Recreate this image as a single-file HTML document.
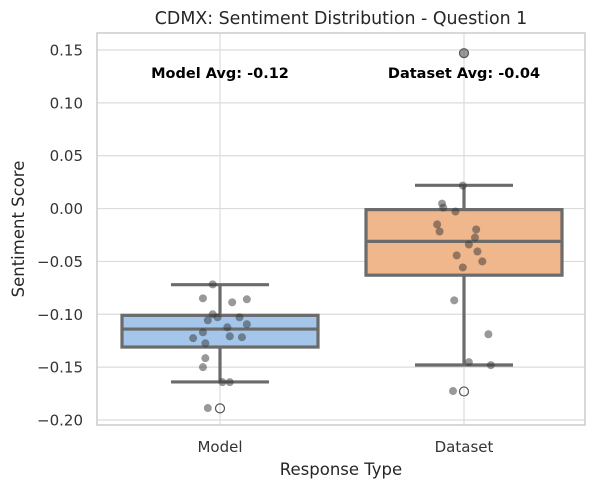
<!DOCTYPE html>
<html><head><meta charset="utf-8"><style>
body{margin:0;background:#fff;}
text{font-family:"DejaVu Sans","Liberation Sans",sans-serif;}
</style></head><body>
<svg id="chart" width="595" height="489" xmlns="http://www.w3.org/2000/svg"></svg>
<script>
const categories = ["Model", "Dataset"];
const boxQ1 = [-0.131, -0.063];
const boxMedian = [-0.114, -0.031];
const boxQ3 = [-0.101, -0.001];
const whiskerLow = [-0.164, -0.148];
const whiskerHigh = [-0.072, 0.022];
const outliersModel = [-0.189];
const outliersDataset = [0.147, -0.173];
const pointsModel = [-0.0717,-0.0849,-0.0887,-0.0858,-0.1,-0.1028,-0.1057,-0.1028,-0.1094,-0.1123,-0.117,-0.1226,-0.1208,-0.1217,-0.1274,-0.1415,-0.15,-0.1642,-0.1642,-0.1887];
const jitterModel = [-0.03,-0.07,0.05,0.11,-0.03,-0.01,-0.05,0.08,0.11,0.03,-0.07,-0.11,0.04,0.09,-0.06,-0.06,-0.07,0.01,0.04,-0.05];
const pointsDataset = [0.0217,0.0047,0.0009,-0.0028,-0.015,-0.0217,-0.0198,-0.0274,-0.034,-0.0406,-0.0443,-0.05,-0.0557,-0.0868,-0.1189,-0.1453,-0.1481,-0.1726,0.147];
const jitterDataset = [-0.005,-0.09,-0.085,-0.035,-0.11,-0.1,0.05,0.045,0.02,0.055,-0.03,0.075,-0.005,-0.04,0.1,0.02,0.11,-0.045,0.0];
const avgLabels = ["Model Avg: -0.12", "Dataset Avg: -0.04"];
const yTicks = [0.15,0.10,0.05,0.00,-0.05,-0.10,-0.15,-0.20];
const yTickLabels = ["0.15","0.10","0.05","0.00","\u22120.05","\u22120.10","\u22120.15","\u22120.20"];

const svg = document.getElementById('chart');
const NS = "http://www.w3.org/2000/svg";
const L=97,R=585,T=33,B=425;
const yScale = v => 420 - (v + 0.20) * (370/0.35);
const band = (R-L)/categories.length;
const xScale = i => L + band*(i+0.5) + 1;
function mk(tag, attrs, parent){const e=document.createElementNS(NS,tag);for(const k in attrs)e.setAttribute(k,attrs[k]);(parent||svg).appendChild(e);return e;}

const grid = mk('g',{});


yTicks.forEach((t,i)=>{
  const y=yScale(t);
  mk('line',{x1:L,x2:R,y1:y,y2:y,stroke:'#dcdcdc','stroke-width':1.2},grid);
  const tx=mk('text',{x:83,y:y+5.5,'text-anchor':'end','font-size':15,fill:'#333'});
  tx.textContent=yTickLabels[i];
  
  
});
categories.forEach((c,i)=>{
  const x=xScale(i);
  mk('line',{x1:x,x2:x,y1:T,y2:B,stroke:'#dcdcdc','stroke-width':1.2},grid);
  const tx=mk('text',{x:x,y:452,'text-anchor':'middle','font-size':15,fill:'#333'});
  tx.textContent=c;
  
  
});
const frame=mk('rect',{x:L,y:T,width:R-L,height:B-T,fill:'none',stroke:'#cccccc','stroke-width':1.5});



const fills=['#a3c6ea','#f0b68c'];
const bw=196;
categories.forEach((c,i)=>{
  const x=xScale(i);
  const g=mk('g',{});
  
  
  const st={stroke:'#6b6b6b','stroke-width':3.2};
  mk('line',Object.assign({x1:x,x2:x,y1:yScale(boxQ1[i]),y2:yScale(whiskerLow[i])},st),g);
  mk('line',Object.assign({x1:x,x2:x,y1:yScale(boxQ3[i]),y2:yScale(whiskerHigh[i])},st),g);
  mk('line',Object.assign({x1:x-bw/4,x2:x+bw/4,y1:yScale(whiskerLow[i]),y2:yScale(whiskerLow[i])},st),g);
  mk('line',Object.assign({x1:x-bw/4,x2:x+bw/4,y1:yScale(whiskerHigh[i]),y2:yScale(whiskerHigh[i])},st),g);
  mk('rect',Object.assign({x:x-bw/2,y:yScale(boxQ3[i]),width:bw,height:yScale(boxQ1[i])-yScale(boxQ3[i]),fill:fills[i]},st),g);
  mk('line',Object.assign({x1:x-bw/2,x2:x+bw/2,y1:yScale(boxMedian[i]),y2:yScale(boxMedian[i])},st),g);
});
function outl(vals,i){
  vals.forEach(v=>{
    const c=mk('circle',{cx:xScale(i),cy:yScale(v),r:4.5,fill:'none',stroke:'#555','stroke-width':1.2});
    
    
  });
}
outl(outliersModel,0);outl(outliersDataset,1);
function pts(vals,jit,i){
  vals.forEach((v,k)=>{
    const c=mk('circle',{cx:xScale(i)+jit[k]*band,cy:yScale(v),r:4,fill:'#333','fill-opacity':0.5});
    
    
  });
}
pts(pointsModel,jitterModel,0);pts(pointsDataset,jitterDataset,1);

avgLabels.forEach((s,i)=>{
  const t=mk('text',{x:xScale(i),y:78,'text-anchor':'middle','font-size':14.5,'font-weight':'bold',fill:'#000'});
  t.textContent=s;
  
  
});
const title=mk('text',{x:341,y:24,'text-anchor':'middle','font-size':17.4,fill:'#262626'});
title.textContent='CDMX: Sentiment Distribution - Question 1';


const xl=mk('text',{x:341,y:475,'text-anchor':'middle','font-size':16.5,fill:'#262626'});
xl.textContent='Response Type';


const yl=mk('text',{x:24,y:229,'text-anchor':'middle','font-size':16.5,fill:'#262626',transform:'rotate(-90 24 229)'});
yl.textContent='Sentiment Score';


</script>
</body></html>
